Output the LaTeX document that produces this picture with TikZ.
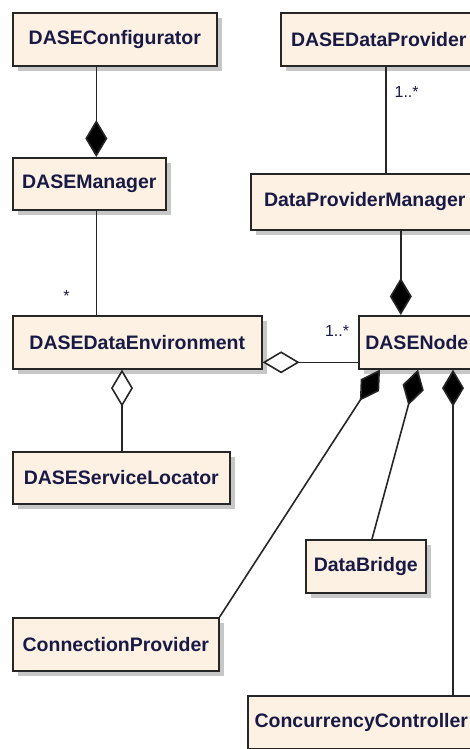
\documentclass[tikz,border=0pt]{standalone}
\usepackage{fontspec}
\setmainfont{Liberation Sans}
\usetikzlibrary{arrows.meta,shadows}

\definecolor{clsfill}{RGB}{252,241,226}
\definecolor{clstext}{RGB}{25,25,70}

\tikzset{
  cls/.style={draw=black!85, line width=1.6pt, fill=clsfill, anchor=north west,
    text=clstext, font=\bfseries\fontsize{19.5}{23}\selectfont, inner sep=0pt,
    drop shadow={shadow xshift=5pt, shadow yshift=-5pt, fill=black!22, opacity=1}},
  assoc/.style={draw=black!85, line width=1.6pt},
  comp/.style={assoc, -{Diamond[length=37pt,width=22pt,fill=black]}},
  aggr/.style={assoc, {Diamond[open,length=37pt,width=22pt,fill=white]}-},
  mult/.style={text=clstext, font=\fontsize{16}{19}\selectfont, inner sep=0pt}
}

\begin{document}
\begin{tikzpicture}[x=1pt,y=1pt]

\useasboundingbox (0,0) rectangle (470,-749);
\fill[white] (0,0) rectangle (470,-749);
\clip (0,0) rectangle (470,-749);

% Classes
\node[cls, minimum width=204pt, minimum height=53pt] (conf)   at (12,-12)  {DASEConfigurator};
\node[cls, minimum width=196pt, minimum height=53pt] (dprov)  at (280,-12) {DASEDataProvider};
\node[cls, minimum width=153pt, minimum height=52pt] (mgr)    at (12,-157) {DASEManager};
\node[cls, minimum width=228pt, minimum height=56pt] (dpmgr)  at (250,-173) {DataProviderManager};
\node[cls, minimum width=249pt, minimum height=53pt] (env)    at (12,-315) {DASEDataEnvironment};
\node[cls, minimum width=116pt, minimum height=53pt] (dnode)  at (358,-315) {DASENode};
\node[cls, minimum width=217pt, minimum height=52pt] (loc)    at (12,-451) {DASEServiceLocator};
\node[cls, minimum width=120pt, minimum height=53pt] (bridge) at (305,-539) {DataBridge};
\node[cls, minimum width=206pt, minimum height=53pt] (conn)   at (12,-617) {ConnectionProvider};
\node[cls, minimum width=227pt, minimum height=53pt] (conc)   at (247,-695) {ConcurrencyController};

% Associations
\draw[comp] ([xshift=7pt]mgr.north |- conf.south) -- ([xshift=7pt]mgr.north);
\draw[assoc] ([xshift=7pt]dprov.south) -- ([xshift=7pt]dprov.south |- dpmgr.north)
  node[mult, pos=0.24, right=8pt] {1..*};
\draw[assoc] ([xshift=7pt]mgr.south) -- ([xshift=7pt]mgr.south |- env.north)
  node[mult, pos=0.82, left=26pt] {*};
\draw[comp] ([xshift=-16pt]dnode.north |- dpmgr.south) -- ([xshift=-16pt]dnode.north);
\draw[aggr] ([yshift=-20pt]env.east) -- ([yshift=-20pt]env.east -| dnode.west)
  node[mult, pos=0.78, above=25pt] {1..*};
\draw[aggr] ([xshift=110pt]env.south west) -- ([xshift=110pt]env.south west |- loc.north);
\draw[comp] (conn.north east) -- ([xshift=22pt]dnode.south west);
\draw[comp] ([xshift=67pt]bridge.north west) -- ([xshift=60pt]dnode.south west);
\draw[comp] ([xshift=95pt]dnode.south west |- conc.north) -- ([xshift=95pt]dnode.south west);

\end{tikzpicture}
\end{document}
